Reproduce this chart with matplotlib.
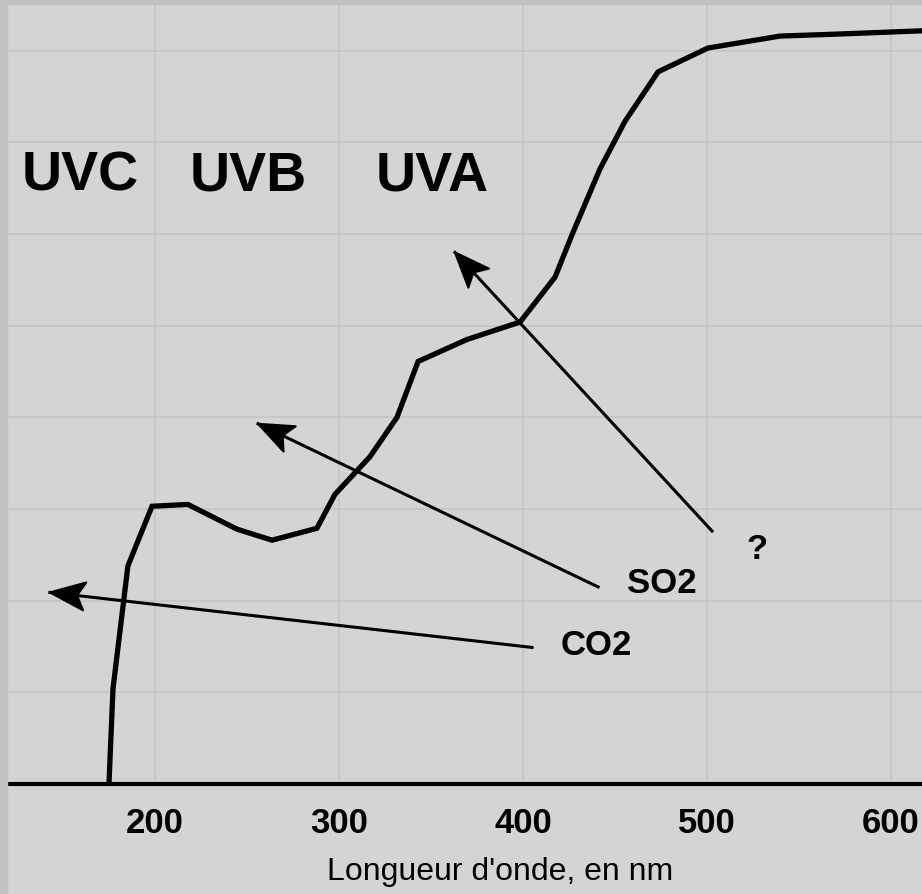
import numpy as np
import matplotlib.pyplot as plt
from matplotlib.patches import Rectangle, Polygon
from matplotlib.transforms import IdentityTransform

plt.rcParams['font.family'] = ['Liberation Sans', 'DejaVu Sans']

# Courbe (longueur d'onde en nm, absorption en unités de grille)
longueur = [175, 177.2, 185.3, 198.4, 217.9, 244.6, 263.6, 288.0, 297.8, 316.8,
            331.5, 343.0, 369.6, 398.4, 417.4, 427.2, 441.8, 455.4, 473.4, 500.5,
            539.7, 568.5, 620.0]
absorption = [0.0, 1.04, 2.38, 3.03, 3.05, 2.78, 2.66, 2.79, 3.16, 3.57,
              4.00, 4.61, 4.85, 5.04, 5.53, 6.02, 6.71, 7.23, 7.77, 8.03,
              8.16, 8.18, 8.22]

# Bandes UV
bandes = ['UVC', 'UVB', 'UVA']
bandes_x = [159.2, 250.5, 350.5]
bandes_y = 6.49

# Flèches des gaz
gaz = ['CO2', 'SO2', '?']
depart_x = [404.9, 440.8, 502.7]
depart_y = [1.49, 2.15, 2.76]
pointe_x = [142.9, 256.0, 363.0]
pointe_y = [2.09, 3.93, 5.80]
texte_x = [439.7, 475.5, 527.2]
texte_y = [1.42, 2.09, 2.47]

ticks_x = [200, 300, 400, 500, 600]

fond = '#d4d4d4'
fig = plt.figure(figsize=(9.22, 8.95), dpi=100, facecolor=fond)
ax = fig.add_axes([7 / 922, 110 / 895, 915 / 922, 780 / 895])
ax.set_facecolor(fond)

# cadre gris en haut et à gauche
fig.patches.append(Rectangle((0, 0), 7 / 922, 1, transform=fig.transFigure,
                             color='#c2c2c2', zorder=0))
fig.patches.append(Rectangle((0, 1 - 5 / 895), 1, 5 / 895, transform=fig.transFigure,
                             color='#c2c2c2', zorder=0))

ax.set_xlim(119.6, 616.8)
ax.set_ylim(0, 8.51)
ax.set_xticks(ticks_x)
ax.set_xticklabels([str(t) for t in ticks_x], fontsize=25, fontweight='bold')
ax.set_yticks(range(1, 9))
ax.set_yticklabels([])
ax.tick_params(length=0)
ax.tick_params(axis='x', pad=16)
ax.grid(True, color='#c5c5c5', lw=1.2)
ax.set_axisbelow(True)

for s in ['top', 'left', 'right']:
    ax.spines[s].set_visible(False)
ax.spines['bottom'].set_linewidth(3)
ax.spines['bottom'].set_color('black')

ax.set_xlabel("Longueur d'onde, en nm", fontsize=23, labelpad=12)
ax.xaxis.label.set_x((500 - 7) / 915)

ax.plot(longueur, absorption, color='black', lw=3.8, solid_joinstyle='miter',
        clip_on=True, zorder=3)

for b, bx in zip(bandes, bandes_x):
    ax.text(bx, bandes_y, b, fontsize=40, fontweight='bold', ha='center', va='baseline')


def fleche(x0, y0, x1, y1):
    # trait + pointe encochée, dessinée en pixels
    ax.plot([x0, x1], [y0, y1], color='black', lw=2.2, zorder=4)
    p0 = ax.transData.transform((x0, y0))
    p1 = ax.transData.transform((x1, y1))
    d = (p1 - p0) / np.hypot(*(p1 - p0))
    n = np.array([-d[1], d[0]])
    L, w = 35, 14
    pts = [p1, p1 - L * d + w * n, p1 - 0.78 * L * d, p1 - L * d - w * n]
    ax.add_patch(Polygon(pts, closed=True, facecolor='black', edgecolor='black',
                         lw=1.5, joinstyle='round', transform=IdentityTransform(),
                         zorder=5))


for i in range(len(gaz)):
    fleche(depart_x[i], depart_y[i], pointe_x[i], pointe_y[i])
    ax.text(texte_x[i], texte_y[i], gaz[i], fontsize=25, fontweight='bold',
            ha='center', va='baseline')

fig.savefig('out.png', dpi=100, facecolor=fond)
